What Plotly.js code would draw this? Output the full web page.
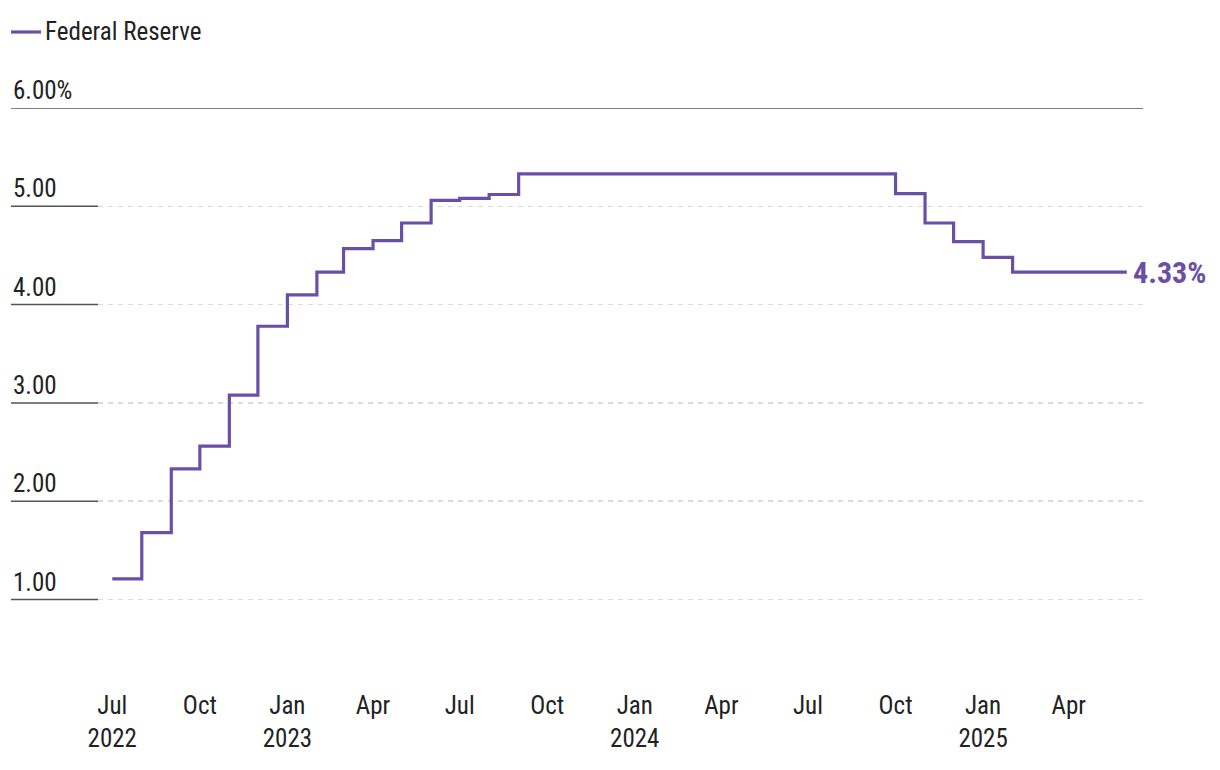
<!DOCTYPE html>
<html>
<head>
<meta charset="utf-8">
<script src="https://cdn.plot.ly/plotly-3.0.1.min.js"></script>
<style>html,body{margin:0;padding:0;background:#fff;}#chart{width:1220px;height:770px;}</style>
</head>
<body>
<div id="chart"></div>
<script>
const seriesName = "Federal Reserve";
const months = [
  "2022-07-01","2022-08-01","2022-09-01","2022-10-01","2022-11-01","2022-12-01",
  "2023-01-01","2023-02-01","2023-03-01","2023-04-01","2023-05-01","2023-06-01",
  "2023-07-01","2023-08-01","2023-09-01","2023-10-01","2023-11-01","2023-12-01",
  "2024-01-01","2024-02-01","2024-03-01","2024-04-01","2024-05-01","2024-06-01",
  "2024-07-01","2024-08-01","2024-09-01","2024-10-01","2024-11-01","2024-12-01",
  "2025-01-01","2025-02-01","2025-03-01","2025-04-01","2025-05-01","2025-06-01"
];
const rates = [
  1.21, 1.68, 2.33, 2.56, 3.08, 3.78,
  4.10, 4.33, 4.57, 4.65, 4.83, 5.06,
  5.08, 5.12, 5.33, 5.33, 5.33, 5.33,
  5.33, 5.33, 5.33, 5.33, 5.33, 5.33,
  5.33, 5.33, 5.33, 5.13, 4.83, 4.64,
  4.48, 4.33, 4.33, 4.33, 4.33, 4.33
];
const xTickVals = ["2022-07-01","2022-10-01","2023-01-01","2023-04-01","2023-07-01","2023-10-01",
  "2024-01-01","2024-04-01","2024-07-01","2024-10-01","2025-01-01","2025-04-01"];
const xTickText = ["Jul<br>2022","Oct","Jan<br>2023","Apr","Jul","Oct","Jan<br>2024","Apr","Jul","Oct","Jan<br>2025","Apr"];
const yTickVals = [1, 2, 3, 4, 5, 6];
const yTickText = ["1.00","2.00","3.00","4.00","5.00","6.00%"];
const endLabel = "4.33%";

const FONT = "'Roboto Condensed','Liberation Sans Narrow','Arial Narrow','DejaVu Sans Condensed',sans-serif";
const PURPLE = "#6a4fa6";
const leftPaper = -87/1045;

const annotations = yTickVals.map((v, i) => ({
  xref: "paper", yref: "y", x: leftPaper, y: v,
  xanchor: "left", yanchor: "bottom", yshift: 1,
  text: yTickText[i], showarrow: false,
  font: {family: FONT, size: 25, color: "#222"}
}));
annotations.push({
  xref: "x", yref: "y", x: months[months.length-1], y: rates[rates.length-1],
  xanchor: "left", yanchor: "middle", xshift: 4,
  text: "<b>" + endLabel + "</b>", showarrow: false,
  font: {family: FONT, size: 30, color: PURPLE}
});
annotations.push({
  xref: "paper", yref: "paper", x: -55/1045, y: 1 + 77/580,
  xanchor: "left", yanchor: "middle",
  text: seriesName, showarrow: false,
  font: {family: FONT, size: 25, color: "#222"}
});

const shapes = yTickVals.map(v => ({
  type: "line", xref: "paper", yref: "y",
  x0: leftPaper, x1: v === 6 ? 1 : 0, y0: v, y1: v,
  line: {color: "#555", width: 1.5}
}));
shapes.push({
  type: "line", xref: "paper", yref: "paper",
  x0: -87/1045, x1: -57/1045, y0: 1 + 76/580, y1: 1 + 76/580,
  line: {color: PURPLE, width: 3.2}
});

const trace = {
  x: months, y: rates, type: "scatter", mode: "lines",
  line: {shape: "hv", color: PURPLE, width: 3.2},
  name: seriesName, showlegend: false
};

const layout = {
  width: 1220, height: 770,
  margin: {l: 98, r: 77, t: 108, b: 82},
  paper_bgcolor: "#fff", plot_bgcolor: "#fff",
  font: {family: FONT, size: 24, color: "#222"},
  showlegend: false,
  xaxis: {
    type: "date", range: ["2022-06-16", "2025-06-18"], automargin: false,
    tickvals: xTickVals, ticktext: xTickText,
    showgrid: false, zeroline: false, showline: false, ticks: "",
    tickfont: {family: FONT, size: 25, color: "#222"}
  },
  yaxis: {
    range: [0.1, 6], tickvals: [1,2,3,4,5], showticklabels: false, automargin: false,
    showgrid: true, gridcolor: "#dcdcdc", gridwidth: 1.5, griddash: "5px,5px",
    zeroline: false, showline: false, ticks: ""
  },
  annotations: annotations,
  shapes: shapes
};

Plotly.newPlot("chart", [trace], layout, {displayModeBar: false, staticPlot: true});
</script>
</body>
</html>
